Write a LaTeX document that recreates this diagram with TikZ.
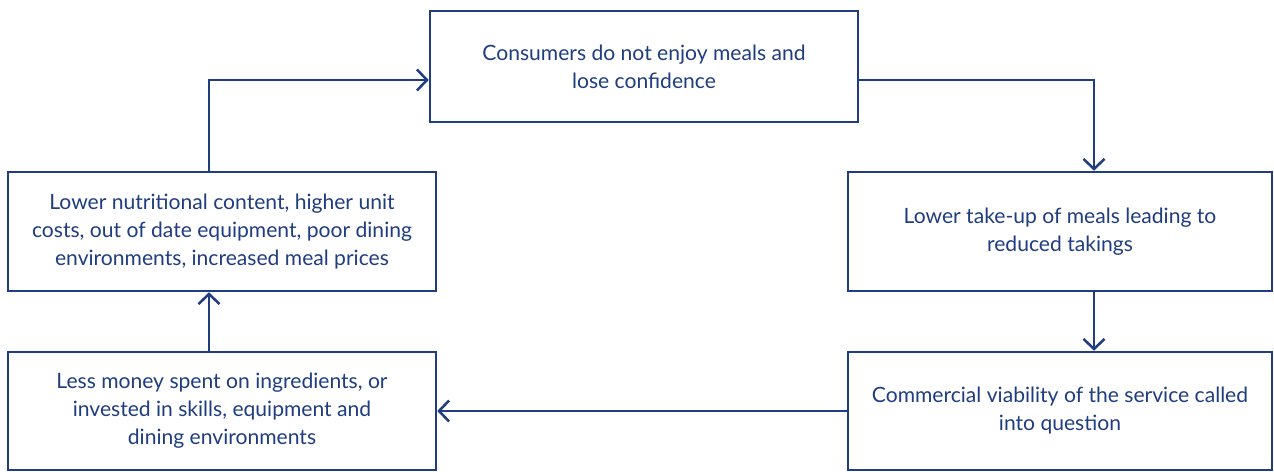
\documentclass[tikz,border=0pt]{standalone}
\usepackage{fontspec}
\setmainfont{Lato}
\usepackage{xcolor}
\usetikzlibrary{arrows.meta}
\usetikzlibrary{calc}
\definecolor{cycleblue}{RGB}{31,61,128}

\begin{document}
\begin{tikzpicture}[
    stagebox/.style={draw=cycleblue, line width=1.45pt, text=cycleblue,
        align=center, inner sep=0pt,
        font=\fontsize{12pt}{15.9pt}\selectfont},
    loop/.style={draw=cycleblue, line width=1.45pt,
        -{Straight Barb[length=2mm, width=4.2mm, line width=1.45pt]}}
    ]
        \useasboundingbox (0, 0) rectangle (25.48, 9.44);

        % Les cinq étapes
        \node[stagebox, minimum width=8.56cm, minimum height=2.22cm] (confidence) at (12.88, 8.11)
            {Consumers do not enjoy meals and\\lose confidence};
        \node[stagebox, minimum width=8.48cm, minimum height=2.38cm] (takeup) at (21.2, 4.81)
            {Lower take-up of meals leading to\\reduced takings};
        \node[stagebox, minimum width=8.48cm, minimum height=2.36cm] (viability) at (21.2, 1.22)
            {Commercial viability of the service called\\into question};
        \node[stagebox, minimum width=8.56cm, minimum height=2.36cm] (spending) at (4.44, 1.22)
            {Less money spent on ingredients, or\\invested in skills, equipment and\\dining environments};
        \node[stagebox, minimum width=8.56cm, minimum height=2.38cm] (quality) at (4.44, 4.81)
            {Lower nutritional content, higher unit\\costs, out of date equipment, poor dining\\environments, increased meal prices};

        % Les flèches du cycle
        \draw[loop] ([xshift=-0.26cm]quality.north) |- ([yshift=-0.27cm]confidence.west);
        \draw[loop] ([yshift=-0.27cm]confidence.east) -| ([xshift=0.68cm]takeup.north);
        \draw[loop] ([xshift=0.68cm]takeup.south) -- ([xshift=0.68cm]viability.north);
        \draw[loop] (viability.west) -- (spending.east);
        \draw[loop] ([xshift=-0.26cm]spending.north) -- ([xshift=-0.26cm]quality.south);
    \end{tikzpicture}
\end{document}
